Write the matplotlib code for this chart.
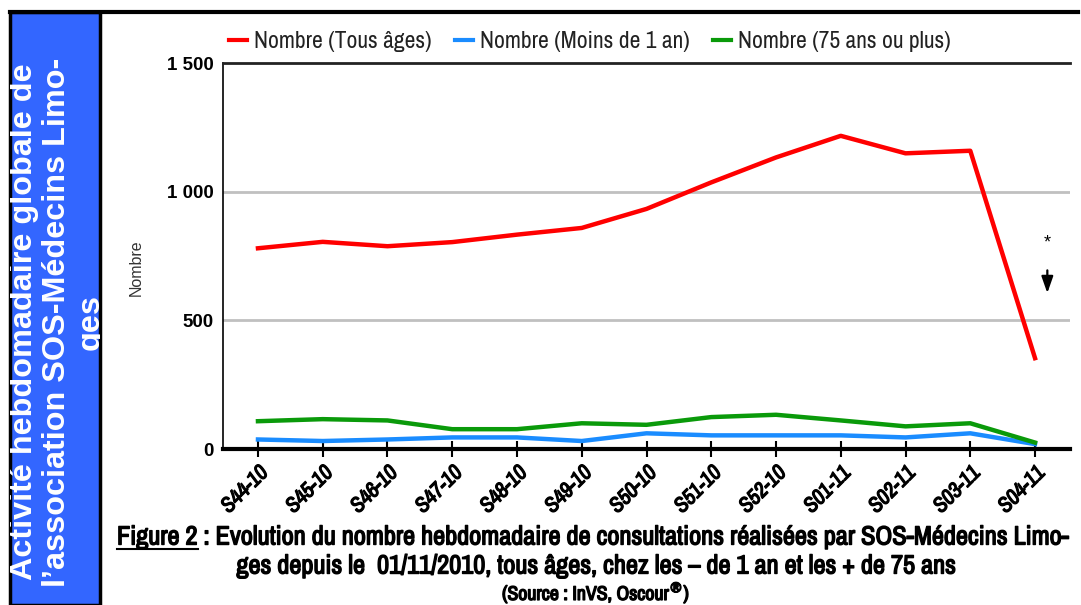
import matplotlib
matplotlib.use("Agg")
import matplotlib.pyplot as plt
from matplotlib import font_manager
import matplotlib.patheffects as pe
from matplotlib.patches import Rectangle
from matplotlib.lines import Line2D

weeks = ["S44-10", "S45-10", "S46-10", "S47-10", "S48-10", "S49-10", "S50-10",
         "S51-10", "S52-10", "S01-11", "S02-11", "S03-11", "S04-11"]
tous_ages = [780, 805, 788, 804, 833, 859, 933, 1036, 1133, 1217, 1149, 1159, 353]
moins_1an = [37, 31, 37, 45, 45, 31, 61, 53, 53, 53, 45, 61, 19]
plus_75 = [108, 116, 111, 77, 77, 100, 94, 124, 133, 111, 88, 100, 25]
series_labels = ["Nombre (Tous âges)", "Nombre (Moins de 1 an)", "Nombre (75 ans ou plus)"]
series_colors = ["#FF0000", "#1A8CFF", "#0A9A0A"]
yticks = [0, 500, 1000, 1500]
ytick_labels = ["0", "500", "1 000", "1 500"]

# find a condensed font if one is installed
cond_family, cond_stretch = None, "normal"
for f in font_manager.fontManager.ttflist:
    n = f.name.lower()
    if "narrow" in n or "condensed" in n:
        cond_family = f.name
        break
if cond_family is None:
    for f in font_manager.fontManager.ttflist:
        st = f.stretch
        if (isinstance(st, str) and "condensed" in st) or (isinstance(st, int) and st < 500):
            cond_family, cond_stretch = f.name, "condensed"
            break
if cond_family is None:
    cond_family = "Liberation Sans"
NARROW = [cond_family, "Liberation Sans", "DejaVu Sans"]
SANS = ["Liberation Sans", "DejaVu Sans"]
BOLDFX = [pe.withStroke(linewidth=0.9, foreground="black")]

W, H = 1081, 605
fig = plt.figure(figsize=(W / 100, H / 100), dpi=100)

ax = fig.add_axes([223 / W, 1 - 449 / H, (1070 - 223) / W, (449 - 63) / H])
x = list(range(len(weeks)))
ax.plot(x, moins_1an, color=series_colors[1], lw=3.2, solid_joinstyle="round", zorder=3)
ax.plot(x, plus_75, color=series_colors[2], lw=3.2, solid_joinstyle="round", zorder=3)
ax.plot(x, tous_ages, color=series_colors[0], lw=3.2, solid_joinstyle="round", zorder=4)

ax.set_xlim(-0.54, len(weeks) - 1 + 0.54)
ax.set_ylim(0, 1500)
ax.set_yticks(yticks)
ax.set_yticklabels(ytick_labels, family=SANS, fontweight="bold", fontsize=13.5)
ax.tick_params(axis="y", length=0, pad=7)
for v in [500, 1000]:
    ax.axhline(v, color="#C0C0C0", lw=2, zorder=1)
ax.set_xticks(x)
ax.set_xticklabels(weeks, rotation=45, ha="right", va="top", rotation_mode="anchor",
                   family=NARROW, stretch=cond_stretch, fontweight="bold", fontsize=15.5,
                   fontstyle="italic")
for t in ax.get_xticklabels():
    t.set_path_effects(BOLDFX)
ax.tick_params(axis="x", direction="inout", length=11, width=1.5, color="black", pad=4)
ax.spines["right"].set_visible(False)
ax.spines["top"].set_color("#222222")
ax.spines["top"].set_linewidth(2)
ax.spines["left"].set_color("black")
ax.spines["left"].set_linewidth(1.2)
ax.spines["bottom"].set_color("black")
ax.spines["bottom"].set_linewidth(3)
ax.spines["bottom"].set_zorder(5)
ax.set_ylabel("Nombre", family=SANS, fontsize=11.5, color="#333333")
ax.yaxis.set_label_coords((144 - 223) / (1070 - 223), (449 - 268) / (449 - 63))

# asterisk and arrow
ax.annotate("*", xy=(12.19, 800), ha="center", va="center", fontsize=13, family=SANS)
ax.annotate("", xy=(12.19, 595), xytext=(12.19, 705),
            arrowprops=dict(arrowstyle="-|>,head_width=0.35,head_length=1.0", color="black", lw=1.6))

# legend
handles = [Line2D([], [], color=c, lw=3) for c in series_colors]
leg = fig.legend(handles, series_labels, loc="center", bbox_to_anchor=(590 / W, 1 - 42 / H),
                 ncol=3, frameon=False, handlelength=0.75, handletextpad=0.3, columnspacing=1.0,
                 prop=dict(family=NARROW, stretch=cond_stretch, size=17.0))
for t in leg.get_texts():
    t.set_color("#222222")

# left blue panel
panel = Rectangle((10 / W, 0), 90 / W, 1 - 12 / H, transform=fig.transFigure,
                  facecolor="#3366FF", edgecolor="black", lw=2.5, zorder=0)
fig.patches.append(panel)
pt = fig.text(57 / W, 1 - 322 / H,
              "Activité hebdomadaire globale de\nl’association SOS-Médecins Limo-\nges",
              rotation=90, ha="center", va="center", multialignment="center",
              color="white", fontweight="bold", fontsize=23.3, family=SANS, linespacing=1.14)
pt.set_clip_path(panel)
fig.add_artist(Line2D([10 / W, 1078 / W], [1 - 12 / H, 1 - 12 / H], color="black", lw=3,
                      transform=fig.transFigure))

# caption
cap_kw = dict(family=NARROW, stretch=cond_stretch, fontweight="bold", fontsize=16, color="black")
line1 = "Figure 2 : Evolution du nombre hebdomadaire de consultations réalisées par SOS-Médecins Limo-"
t1 = fig.text(117 / W, 1 - 537 / H, line1, ha="left", va="center", **cap_kw)
t2 = fig.text(596 / W, 1 - 566 / H, "ges depuis le  01/11/2010, tous âges, chez les – de 1 an et les + de 75 ans",
              ha="center", va="center", **cap_kw)
t3 = fig.text(596 / W, 1 - 593 / H, r"(Source : InVS, Oscour$^{\circledR}$)", ha="center", va="center",
              family=NARROW, stretch=cond_stretch, fontweight="bold", fontsize=12)
fig.canvas.draw()
r = fig.canvas.get_renderer()
bb1 = t1.get_window_extent(r)
target = 1072 - 117
scale = target / bb1.width
for t in (t1, t2, t3):
    t.set_fontsize(t.get_fontsize() * scale)
    t.set_path_effects([pe.withStroke(linewidth=1.0, foreground="black")])
fig.canvas.draw()
tmp = fig.text(117 / W, 1 - 537 / H, "Figure 2", ha="left", va="center",
               **{**cap_kw, "fontsize": t1.get_fontsize()})
bb = tmp.get_window_extent(r)
tmp.remove()
uy = bb.y0 - 0.5
fig.add_artist(Line2D([bb.x0, bb.x1], [uy, uy], color="black", lw=1.5, transform=None))

fig.savefig("out.png", dpi=100)
